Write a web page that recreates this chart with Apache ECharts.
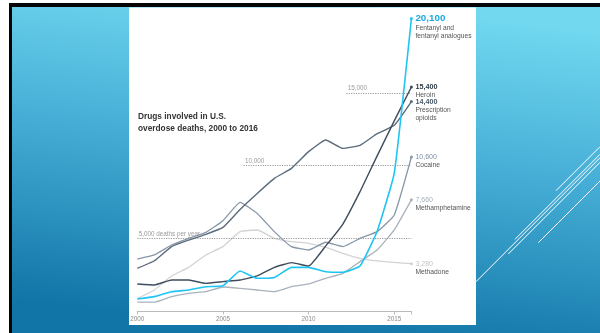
<!DOCTYPE html>
<html><head><meta charset="utf-8">
<script src="https://cdn.jsdelivr.net/npm/echarts@6/dist/echarts.min.js"></script>
<style>html,body{margin:0;padding:0;background:#fff;overflow:hidden}#c{width:600px;height:333px}</style>
</head><body><div id="c"></div>
<script>
// ---- data ----
const years = [2000,2001,2002,2003,2004,2005,2006,2007,2008,2009,2010,2011,2012,2013,2014,2015,2016];
const fentanyl      = [860,1020,1360,1480,1700,1770,2780,2280,2340,3030,3030,2730,2690,3120,5500,9500,20100];
const heroin        = [1890,1820,2160,2160,1930,2050,2160,2440,3030,3350,3120,4500,6000,8220,10680,13080,15400];
const prescription  = [2960,3480,4450,4900,5290,5770,7000,8100,9135,9820,10970,11765,11190,11400,12200,12770,14400];
const cocaine       = [3600,3880,4560,5020,5430,6230,7490,6730,5480,4450,4220,4750,4450,5020,5480,6620,10600];
const meth          = [640,640,1020,1250,1360,1680,1590,1475,1360,1700,1890,2280,2620,3420,4220,5600,7660];
const methadone     = [900,1480,2440,3030,3880,4450,5480,5590,5020,4790,4680,4400,3990,3650,3470,3370,3280];
const xTicks = [2000,2005,2010,2015];
const refLevels = [5000,10000,15000];
const refLabels = ['5,000 deaths per year','10,000','15,000'];
const refStarts = [2000,2006.2,2012.2];
const endValues = ['20,100','15,400','14,400','10,600','7,660','3,280'];
const endNames = [['Fentanyl and','fentanyl analogues'],['Heroin'],['Prescription','opioids'],['Cocaine'],['Methamphetamine'],['Methadone']];
const titleLines = ['Drugs involved in U.S.','overdose deaths, 2000 to 2016'];

const FF = "'Liberation Sans', Arial, sans-serif";
const seriesDefs = [
  {name:'Methadone', vals:methadone, color:'#d3d3d3', numColor:'#c4c4c4', bold:false, vs:7, idx:5, w:1.3},
  {name:'Methamphetamine', vals:meth, color:'#a9b2bc', numColor:'#a3aebb', bold:false, vs:7, idx:4, w:1.3},
  {name:'Cocaine', vals:cocaine, color:'#8797a9', numColor:'#7f90a4', bold:false, vs:7, idx:3, w:1.3},
  {name:'Prescription opioids', vals:prescription, color:'#5b6b7b', numColor:'#4b5b6b', bold:true, vs:7.2, idx:2, w:1.4},
  {name:'Heroin', vals:heroin, color:'#3e4c5b', numColor:'#2e3b49', bold:true, vs:7.2, idx:1, w:1.4},
  {name:'Fentanyl', vals:fentanyl, color:'#1fc4f4', numColor:'#1aa8e2', bold:true, vs:9.8, idx:0, w:1.6}
];

const series = seriesDefs.map((d, k) => {
  const data = years.map((y, i) => [y, d.vals[i]]);
  const last = data.length - 1;
  const vlh = d.vs + 1;
  const txt = '{v|' + endValues[d.idx] + '}' + endNames[d.idx].map(n => '\n{n|' + n + '}').join('');
  data[last] = {
    value: data[last],
    symbol: 'circle', symbolSize: 3,
    itemStyle: {color: d.color},
    label: {
      show: true, position: 'right', distance: 2.5,
      verticalAlign: 'top', offset: [0, -vlh/2],
      formatter: txt,
      rich: {
        v: {fontFamily: FF, fontSize: d.vs, fontWeight: d.bold ? 'bold' : 'normal', color: d.numColor, lineHeight: vlh},
        n: {fontFamily: FF, fontSize: 6.7, color: '#555', lineHeight: 8}
      }
    }
  };
  const s = {
    type: 'line', name: d.name, data: data, symbol: 'none', showSymbol: true,
    smooth: 0.12, z: 3 + k,
    lineStyle: {color: d.color, width: d.w},
    itemStyle: {color: d.color},
    emphasis: {disabled: true}
  };
  if (k === 0) {
    s.markLine = {
      silent: true, symbol: ['none','none'], animation: false,
      lineStyle: {type: [1.2, 1.2], color: '#9a9a9a', width: 1},
      label: {show: true, position: 'insideStartTop', distance: 1.5, formatter: '{b}',
              color: '#9a9a9a', fontSize: 6.3, fontFamily: FF},
      data: refLevels.map((v, i) => [{coord: [refStarts[i], v], name: refLabels[i]}, {coord: [2016, v]}])
    };
  }
  return s;
});

const slide = [
  {type:'rect', z:-10, shape:{x:0,y:0,width:600,height:333}, style:{fill:'#ffffff'}},
  {type:'rect', z:-9, shape:{x:9,y:3,width:591,height:330}, style:{fill:{type:'linear', global:true, x:330, y:0, x2:290, y2:333,
    colorStops:[{offset:0,color:'#71d8f0'},{offset:0.45,color:'#46aed6'},{offset:1,color:'#1175a7'}]}}},
  {type:'rect', z:-8, shape:{x:9,y:3,width:591,height:4}, style:{fill:'#050505'}},
  {type:'rect', z:-8, shape:{x:9,y:3,width:3,height:330}, style:{fill:'#050505'}},
  {type:'line', z:-7, shape:{x1:476,y1:281.7,x2:600,y2:157.7}, style:{stroke:'#ffffff', lineWidth:1}},
  {type:'line', z:-7, shape:{x1:515,y1:239.3,x2:600,y2:154.3}, style:{stroke:'#ffffff', lineWidth:1}},
  {type:'line', z:-7, shape:{x1:508.3,y1:254,x2:600,y2:162.3}, style:{stroke:'#ffffff', lineWidth:1}},
  {type:'line', z:-7, shape:{x1:556,y1:190.7,x2:600,y2:146.7}, style:{stroke:'#ffffff', lineWidth:1}},
  {type:'line', z:-7, shape:{x1:538.3,y1:242.7,x2:600,y2:181}, style:{stroke:'#ffffff', lineWidth:1}},
  {type:'rect', z:-6, shape:{x:129,y:7.5,width:347,height:317.5}, style:{fill:'#ffffff'}}
];

const chart = echarts.init(document.getElementById('c'), null, {renderer:'canvas'});
chart.setOption({
  animation: false,
  graphic: {elements: slide},
  title: {
    text: titleLines.join('\n'), left: 138, top: 110.5, padding: 0,
    textStyle: {fontFamily: FF, fontSize: 8.3, fontWeight: 'bold', color: '#333', lineHeight: 12.3}
  },
  grid: {left: 137.3, right: 188.6, top: 5.4, bottom: 21.5, containLabel: false},
  xAxis: {
    type: 'value', min: 2000, max: 2016, interval: 5,
    axisLine: {show: true, lineStyle: {color: '#bbbbbb', width: 1}},
    axisTick: {show: true, length: 3, lineStyle: {color: '#bbbbbb'}},
    axisLabel: {fontFamily: FF, fontSize: 6.3, color: '#8a8a8a', margin: 5,
      formatter: v => xTicks.indexOf(v) >= 0 ? String(v) : ''},
    splitLine: {show: false}
  },
  yAxis: {type: 'value', min: 0, max: 21000, show: false, splitLine: {show: false}},
  series: series
});
</script>
</body></html>
